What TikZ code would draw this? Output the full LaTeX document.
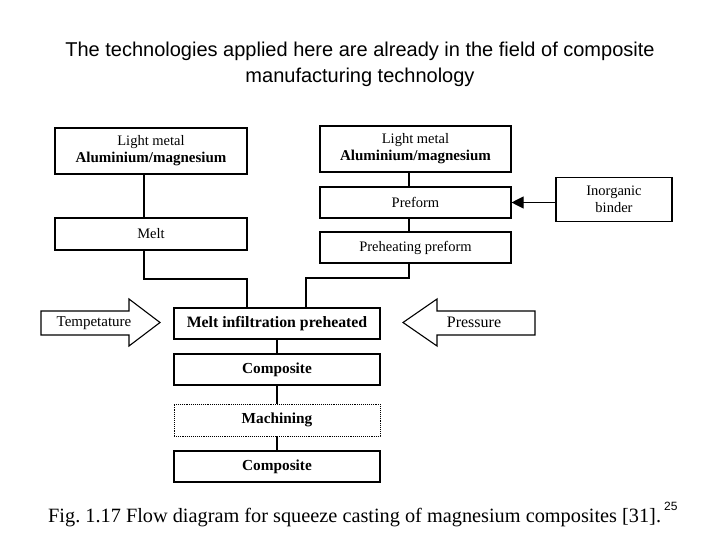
\documentclass[tikz,border=0pt]{standalone}
\usepackage{fontspec}
\setmainfont{Liberation Serif}
\newfontfamily\titlefont{Liberation Sans}
\usetikzlibrary{arrows.meta}
\frenchspacing
\begin{document}
\begin{tikzpicture}[x=1pt,y=-1pt,
  flowbox/.style={draw, line width=1.1pt, inner sep=0pt, align=center,
    font=\fontsize{14.5}{17}\selectfont},
  wbox/.style={flowbox, minimum width=192pt},
  rbox/.style={flowbox, minimum width=191pt},
  cbox/.style={flowbox, minimum width=206pt, font=\fontsize{15.3}{17}\selectfont\bfseries},
  fatarrow/.style={draw, line width=1.1pt, line join=miter},
  link/.style={draw, line width=1.1pt},
  lbl/.style={inner sep=0pt},
  ttl/.style={anchor=base, inner sep=0pt, font=\titlefont\fontsize{20}{24}\selectfont}]
\useasboundingbox (0,0) rectangle (720,540);
% title
\node[ttl] (title1) at (360,57) {The technologies applied here are already in the field of composite};
\node[ttl] (title2) at (360,83) {manufacturing technology};
% left column
\node[wbox, minimum height=46pt] (lm1) at (151,151) {Light metal\\{\fontsize{15}{17}\selectfont\bfseries Aluminium/magnesium}};
\node[wbox, minimum height=32pt] (melt) at (151,234) {Melt};
% right column
\node[rbox, minimum height=46pt] (lm2) at (415.5,149) {Light metal\\{\fontsize{15}{17}\selectfont\bfseries Aluminium/magnesium}};
\node[rbox, minimum height=31pt] (preform) at (415.5,202.5) {Preform};
\node[rbox, minimum height=31pt] (preheat) at (415.5,247.5) {Preheating preform};
\node[flowbox, minimum width=116pt, minimum height=44pt] (binder) at (614,199.5) {Inorganic\\binder};
% centre column
\node[cbox, minimum height=31pt, font=\fontsize{15.8}{17}\selectfont\bfseries] (mip) at (277,323.5) {Melt infiltration preheated};
\node[cbox, minimum height=31pt] (comp1) at (277,369.5) {Composite};
\node[cbox, minimum height=32pt, densely dotted, line width=0.9pt] (mach) at (277,420) {Machining};
\node[cbox, minimum height=31pt] (comp2) at (277,466.5) {Composite};
% connectors
\coordinate (jl) at (247,279);
\coordinate (jr) at (306,278);
\draw[link] ([xshift=-7pt]lm1.south) -- ([xshift=-7pt]melt.north);
\draw[link] ([xshift=-7pt]melt.south) |- (jl) -- (jl |- mip.north);
\draw[link] ([xshift=-6.5pt]lm2.south) -- ([xshift=-6.5pt]preform.north);
\draw[link] ([xshift=-6.5pt]preform.south) -- ([xshift=-6.5pt]preheat.north);
\draw[link] ([xshift=-6.5pt]preheat.south) |- (jr) -- (jr |- mip.north);
\draw[link] (mip) -- (comp1);
\draw[link] (comp1) -- (mach);
\draw[link] (mach) -- (comp2);
\draw[link, -{Triangle[length=12pt,width=12pt]}] (binder.west |- preform.east) -- (preform.east);
% fat arrows
\draw[fatarrow] (41,311) -- (129,311) -- (129,299) -- (160,322.5) -- (129,346) -- (129,335) -- (41,335) -- cycle;
\node[lbl, font=\fontsize{15}{17}\selectfont] (temp) at (94,323) {Tempetature};
\draw[fatarrow] (403,322.5) -- (437,299) -- (437,311) -- (535,311) -- (535,335) -- (437,335) -- (437,346) -- cycle;
\node[lbl, font=\fontsize{16}{17}\selectfont] (press) at (474,322) {Pressure};
% caption
\node[anchor=base west, inner sep=0pt, font=\fontsize{20.3}{22}\selectfont] (cap) at (48,522)
  {Fig. 1.17 Flow diagram for squeeze casting of magnesium composites [31].};
\node[anchor=base west, inner sep=0pt, font=\titlefont\fontsize{12}{14}\selectfont] (pnum) at (664,510) {25};
\end{tikzpicture}
\end{document}
